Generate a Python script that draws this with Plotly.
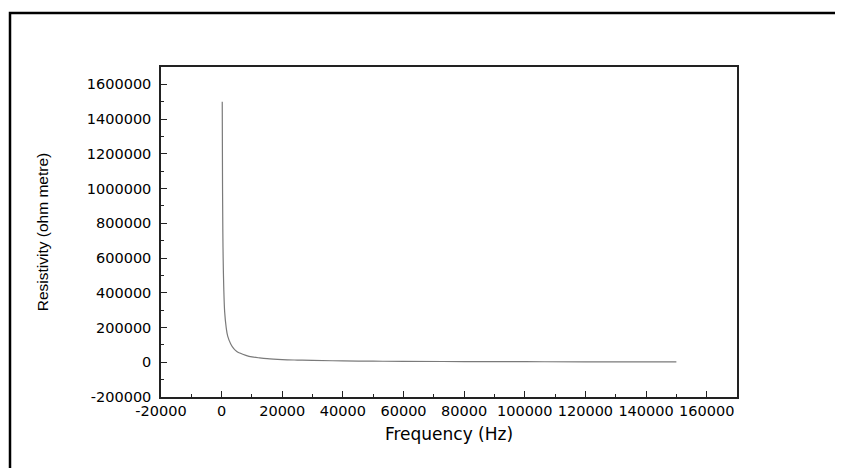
import plotly.graph_objects as go

# Data
frequency_hz = [200, 300, 400, 500, 700, 1000, 1500, 2000, 3000, 4000, 5000,
                6000, 8000, 10000, 12500, 15000, 20000, 25000, 30000, 40000,
                50000, 60000, 80000, 100000, 120000, 150000]
resistivity = [1500000, 1000000, 750000, 600000, 430000, 290000, 200000, 150000,
               105000, 78000, 62000, 53000, 40000, 31000, 25000, 20500, 15500,
               12600, 10500, 7800, 6200, 5200, 3900, 3100, 2600, 2000]

x_ticks = [-20000, 0, 20000, 40000, 60000, 80000, 100000, 120000, 140000, 160000]
y_ticks = [-200000, 0, 200000, 400000, 600000, 800000, 1000000, 1200000,
           1400000, 1600000]

# page body has an 8px margin, so the figure is placed 8px in from the window edge
W, H = 835, 460
L, R, T, B = 153, 729, 59, 389

fig = go.Figure()
fig.add_trace(go.Scatter(x=frequency_hz, y=resistivity, mode="lines",
                         line=dict(color="#7a7a7a", width=1.2),
                         line_shape="spline", showlegend=False))

tickfont = dict(family="DejaVu Sans", size=14.5, color="black")
axis_common = dict(showline=True, mirror=True, linecolor="#222222", linewidth=1.5,
                   ticks="inside", ticklen=6, tickwidth=1.2, tickcolor="#222222",
                   showgrid=False, zeroline=False, tickfont=tickfont)

fig.update_layout(
    width=W, height=H,
    margin=dict(l=L, r=W - R, t=T, b=H - B),
    paper_bgcolor="white", plot_bgcolor="white",
    xaxis=dict(range=[-20000, 170000], tickvals=x_ticks,
               ticktext=[str(v) for v in x_ticks],
               minor=dict(ticks="inside", ticklen=3, dtick=10000, tick0=0,
                          tickcolor="#222222", tickwidth=1.2, showgrid=False),
               title=dict(text="Frequency (Hz)", standoff=10,
                          font=dict(family="DejaVu Sans", size=17, color="black")),
               **axis_common),
    yaxis=dict(range=[-200000, 1700000], tickvals=y_ticks,
               ticktext=[str(v) for v in y_ticks],
               minor=dict(ticks="inside", ticklen=3, dtick=100000, tick0=0,
                          tickcolor="#222222", tickwidth=1.2, showgrid=False),
               ticklabelstandoff=5,
               title=dict(text="Resistivity (ohm metre)", standoff=34,
                          font=dict(family="Liberation Sans", size=15.5, color="black")),
               **axis_common),
    shapes=[dict(type="rect", xref="paper", yref="paper",
                 x0=(2 - L) / (R - L), x1=(850 - L) / (R - L),
                 y0=(B - 480) / (B - T), y1=(B - 5) / (B - T),
                 line=dict(color="black", width=2.5), layer="above")],
)

fig.write_html("out.html")
